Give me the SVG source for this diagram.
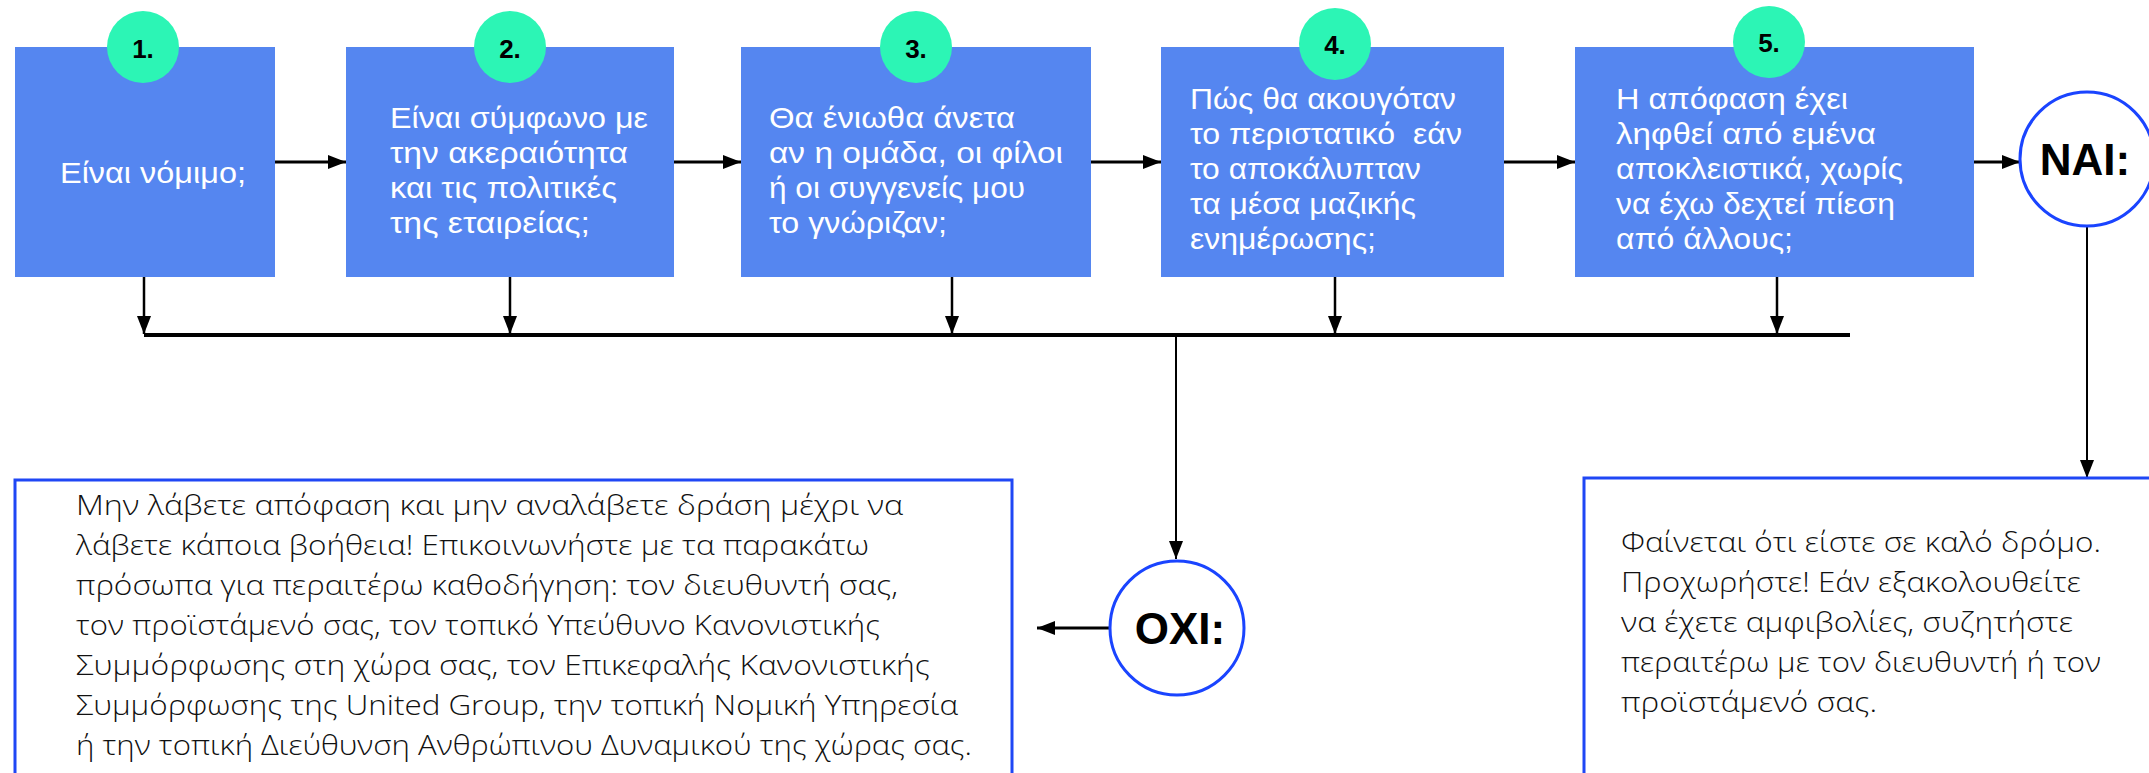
<svg xmlns="http://www.w3.org/2000/svg" width="2149" height="773" viewBox="0 0 2149 773">
<defs>
<style>
.box{fill:#5586f0}
.num{fill:#2cf5b5}
.n{font-family:"Liberation Sans",Arial,sans-serif;font-weight:bold;font-size:26px;text-anchor:middle;fill:#000}
.t{font-family:"Liberation Sans",Arial,sans-serif;font-size:29px;fill:#fff}
.end{fill:#fff;stroke:#1a44ff;stroke-width:3}
.lbl{font-family:"Liberation Sans",Arial,sans-serif;font-weight:bold;font-size:44px;text-anchor:middle;fill:#000}
.panel{fill:none;stroke:#1f47f5;stroke-width:3}
.body{font-family:"Open Sans","Liberation Sans",sans-serif;font-weight:300;font-size:28px;fill:#111}
.c{fill:none;stroke:#000}
</style>
<marker id="ah" markerUnits="userSpaceOnUse" markerWidth="18" markerHeight="14" viewBox="0 0 18 14" refX="18" refY="7" orient="auto">
<path d="M0,0 L18,7 L0,14 z" fill="#000"/>
</marker>
</defs>
<rect width="2149" height="773" fill="#fff"/>

<g id="connectors">
<line class="c" x1="275" y1="162" x2="346" y2="162" stroke-width="3" marker-end="url(#ah)"/>
<line class="c" x1="674" y1="162" x2="741" y2="162" stroke-width="3" marker-end="url(#ah)"/>
<line class="c" x1="1091" y1="162" x2="1161" y2="162" stroke-width="3" marker-end="url(#ah)"/>
<line class="c" x1="1504" y1="162" x2="1575" y2="162" stroke-width="3" marker-end="url(#ah)"/>
<line class="c" x1="1974" y1="162" x2="2020" y2="162" stroke-width="3" marker-end="url(#ah)"/>
<line class="c" x1="144" y1="277" x2="144" y2="334" stroke-width="2.5" marker-end="url(#ah)"/>
<line class="c" x1="510" y1="277" x2="510" y2="334" stroke-width="2.5" marker-end="url(#ah)"/>
<line class="c" x1="952" y1="277" x2="952" y2="334" stroke-width="2.5" marker-end="url(#ah)"/>
<line class="c" x1="1335" y1="277" x2="1335" y2="334" stroke-width="2.5" marker-end="url(#ah)"/>
<line class="c" x1="1777" y1="277" x2="1777" y2="334" stroke-width="2.5" marker-end="url(#ah)"/>
<line class="c" x1="144" y1="335" x2="1850" y2="335" stroke-width="4"/>
<line class="c" x1="1176" y1="335" x2="1176" y2="559" stroke-width="2" marker-end="url(#ah)"/>
<line class="c" x1="1110" y1="628" x2="1037" y2="628" stroke-width="3" marker-end="url(#ah)"/>
<line class="c" x1="2087" y1="227" x2="2087" y2="478" stroke-width="2" marker-end="url(#ah)"/>
</g>

<g id="step1">
<rect class="box" x="15" y="47" width="260" height="230"/>
<circle class="num" cx="143" cy="47" r="36"/>
<text class="n" x="143" y="58">1.</text>
<text class="t" x="60" y="183" textLength="186" lengthAdjust="spacingAndGlyphs">Είναι νόμιμο;</text>
</g>

<g id="step2">
<rect class="box" x="346" y="47" width="328" height="230"/>
<circle class="num" cx="510" cy="47" r="36"/>
<text class="n" x="510" y="58">2.</text>
<text class="t" x="390" y="128" textLength="258" lengthAdjust="spacingAndGlyphs">Είναι σύμφωνο με</text>
<text class="t" x="390" y="163" textLength="238" lengthAdjust="spacingAndGlyphs">την ακεραιότητα</text>
<text class="t" x="390" y="198" textLength="227" lengthAdjust="spacingAndGlyphs">και τις πολιτικές</text>
<text class="t" x="390" y="233" textLength="200" lengthAdjust="spacingAndGlyphs">της εταιρείας;</text>
</g>

<g id="step3">
<rect class="box" x="741" y="47" width="350" height="230"/>
<circle class="num" cx="916" cy="47" r="36"/>
<text class="n" x="916" y="58">3.</text>
<text class="t" x="769" y="128" textLength="246" lengthAdjust="spacingAndGlyphs">Θα ένιωθα άνετα</text>
<text class="t" x="769" y="163" textLength="294" lengthAdjust="spacingAndGlyphs">αν η ομάδα, οι φίλοι</text>
<text class="t" x="769" y="198" textLength="256" lengthAdjust="spacingAndGlyphs">ή οι συγγενείς μου</text>
<text class="t" x="769" y="233" textLength="178" lengthAdjust="spacingAndGlyphs">το γνώριζαν;</text>
</g>

<g id="step4">
<rect class="box" x="1161" y="47" width="343" height="230"/>
<circle class="num" cx="1335" cy="44" r="36"/>
<text class="n" x="1335" y="54">4.</text>
<text class="t" x="1190" y="109" textLength="266" lengthAdjust="spacingAndGlyphs">Πώς θα ακουγόταν</text>
<text class="t" x="1190" y="144" textLength="272" lengthAdjust="spacingAndGlyphs" xml:space="preserve">το περιστατικό  εάν</text>
<text class="t" x="1190" y="179" textLength="231" lengthAdjust="spacingAndGlyphs">το αποκάλυπταν</text>
<text class="t" x="1190" y="214" textLength="226" lengthAdjust="spacingAndGlyphs">τα μέσα μαζικής</text>
<text class="t" x="1190" y="249" textLength="186" lengthAdjust="spacingAndGlyphs">ενημέρωσης;</text>
</g>

<g id="step5">
<rect class="box" x="1575" y="47" width="399" height="230"/>
<circle class="num" cx="1769" cy="42" r="36"/>
<text class="n" x="1769" y="52">5.</text>
<text class="t" x="1616" y="109" textLength="232" lengthAdjust="spacingAndGlyphs">Η απόφαση έχει</text>
<text class="t" x="1616" y="144" textLength="260" lengthAdjust="spacingAndGlyphs">ληφθεί από εμένα</text>
<text class="t" x="1616" y="179" textLength="287" lengthAdjust="spacingAndGlyphs">αποκλειστικά, χωρίς</text>
<text class="t" x="1616" y="214" textLength="279" lengthAdjust="spacingAndGlyphs">να έχω δεχτεί πίεση</text>
<text class="t" x="1616" y="249" textLength="177" lengthAdjust="spacingAndGlyphs">από άλλους;</text>
</g>

<g id="nai">
<circle class="end" cx="2087" cy="159" r="67"/>
<text class="lbl" x="2085" y="175">NAI:</text>
</g>

<g id="oxi">
<circle class="end" cx="1177" cy="628" r="67"/>
<text class="lbl" x="1180" y="644">OXI:</text>
</g>

<g id="no-panel">
<rect class="panel" x="15" y="480" width="997" height="310"/>
<text class="body" x="76" y="515" textLength="827" lengthAdjust="spacingAndGlyphs">Μην λάβετε απόφαση και μην αναλάβετε δράση μέχρι να</text>
<text class="body" x="76" y="555" textLength="793" lengthAdjust="spacingAndGlyphs">λάβετε κάποια βοήθεια! Επικοινωνήστε με τα παρακάτω</text>
<text class="body" x="76" y="595" textLength="822" lengthAdjust="spacingAndGlyphs">πρόσωπα για περαιτέρω καθοδήγηση: τον διευθυντή σας,</text>
<text class="body" x="76" y="635" textLength="804" lengthAdjust="spacingAndGlyphs">τον προϊστάμενό σας, τον τοπικό Υπεύθυνο Κανονιστικής</text>
<text class="body" x="76" y="675" textLength="854" lengthAdjust="spacingAndGlyphs">Συμμόρφωσης στη χώρα σας, τον Επικεφαλής Κανονιστικής</text>
<text class="body" x="76" y="715" textLength="882" lengthAdjust="spacingAndGlyphs">Συμμόρφωσης της United Group, την τοπική Νομική Υπηρεσία</text>
<text class="body" x="76" y="755" textLength="896" lengthAdjust="spacingAndGlyphs">ή την τοπική Διεύθυνση Ανθρώπινου Δυναμικού της χώρας σας.</text>
</g>

<g id="yes-panel">
<rect class="panel" x="1584" y="478" width="600" height="320"/>
<text class="body" x="1621" y="552" textLength="480" lengthAdjust="spacingAndGlyphs">Φαίνεται ότι είστε σε καλό δρόμο.</text>
<text class="body" x="1621" y="592" textLength="460" lengthAdjust="spacingAndGlyphs">Προχωρήστε! Εάν εξακολουθείτε</text>
<text class="body" x="1621" y="632" textLength="452" lengthAdjust="spacingAndGlyphs">να έχετε αμφιβολίες, συζητήστε</text>
<text class="body" x="1621" y="672" textLength="480" lengthAdjust="spacingAndGlyphs">περαιτέρω με τον διευθυντή ή τον</text>
<text class="body" x="1621" y="712" textLength="256" lengthAdjust="spacingAndGlyphs">προϊστάμενό σας.</text>
</g>
</svg>
